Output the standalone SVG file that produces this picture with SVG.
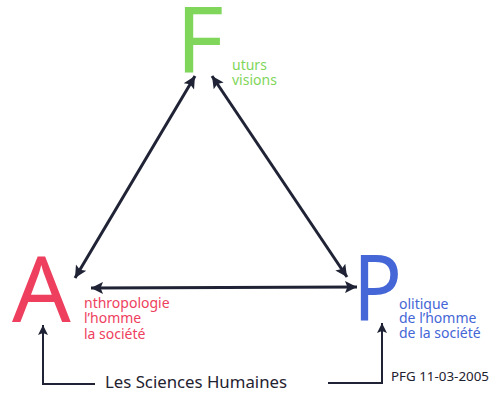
<svg xmlns="http://www.w3.org/2000/svg" width="498" height="394" viewBox="0 0 498 394">
<defs>
<style>
.big{font-family:"Noto Sans","Liberation Sans",sans-serif;font-size:92px}
.sub{font-family:"Noto Sans","Liberation Sans",sans-serif;font-size:14px}
.lbl{font-family:"Noto Sans","Liberation Sans",sans-serif;fill:#1f2230}
.con{stroke:#1f2335;stroke-width:3;fill:none}
.thin{stroke:#1f2335;stroke-width:2;fill:none}
</style>
<marker id="ah" viewBox="0 0 10 10" refX="10" refY="5" markerWidth="5" markerHeight="4" orient="auto-start-reverse" markerUnits="strokeWidth">
<path d="M0,0 L10,5 L0,10 L2,5 Z" fill="#1f2335"/>
</marker>
<marker id="ah2" viewBox="0 0 10 10" refX="10" refY="5" markerWidth="6" markerHeight="5" orient="auto" markerUnits="strokeWidth">
<path d="M0,0 L10,5 L0,10 L2,5 Z" fill="#1f2335"/>
</marker>
</defs>
<rect width="498" height="394" fill="#ffffff"/>
<g id="node-F">
<text class="big" x="176" y="73" fill="#7fd65a">F</text>
<text class="sub" x="232" y="70" fill="#7fd65a">uturs</text>
<text class="sub" x="232" y="85" fill="#7fd65a">visions</text>
</g>
<g id="node-A">
<text class="big" x="12" y="322" fill="#ee3f5e">A</text>
<text class="sub" x="84" y="308" fill="#ee3f5e">nthropologie</text>
<text class="sub" x="84" y="323" fill="#ee3f5e">l’homme</text>
<text class="sub" x="84" y="339" fill="#ee3f5e">la société</text>
</g>
<g id="node-P">
<text class="big" transform="translate(353,320) scale(0.88,1)" x="0" y="0" fill="#4466d6">P</text>
<text class="sub" x="399" y="309" fill="#4466d6">olitique</text>
<text class="sub" x="399" y="323" fill="#4466d6">de l’homme</text>
<text class="sub" x="399" y="338" fill="#4466d6">de la société</text>
</g>
<g id="label-sh">
<text class="lbl" x="105" y="388" font-size="15.5" textLength="182" lengthAdjust="spacingAndGlyphs">Les Sciences Humaines</text>
</g>
<g id="label-pfg">
<text class="lbl" x="391" y="381" font-size="12" textLength="98" lengthAdjust="spacingAndGlyphs">PFG 11-03-2005</text>
</g>
<g id="connectors">
<line class="con" x1="75" y1="278" x2="195" y2="76" marker-start="url(#ah)" marker-end="url(#ah)"/>
<line class="con" x1="212" y1="76" x2="347" y2="277" marker-start="url(#ah)" marker-end="url(#ah)"/>
<line class="con" x1="91" y1="288" x2="357" y2="287" marker-start="url(#ah)" marker-end="url(#ah)"/>
<polyline class="thin" points="95,384 43,384 43,325" marker-end="url(#ah2)"/>
<polyline class="thin" points="328,383 382,383 382,323" marker-end="url(#ah2)"/>
</g>
</svg>
